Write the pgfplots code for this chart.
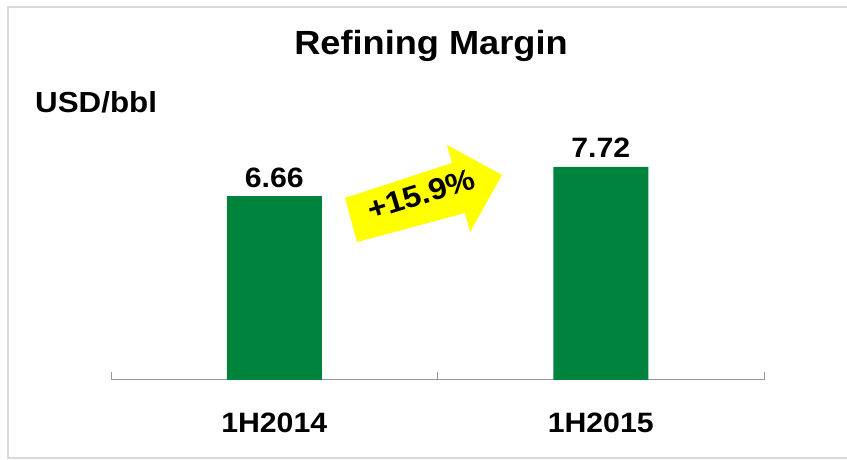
\documentclass[border=0pt]{standalone}
\usepackage{fontspec}
\setmainfont{Liberation Sans}[FakeStretch=1.08]
\usepackage{pgfplots}
\pgfplotsset{compat=1.18}
\definecolor{bargreen}{RGB}{0,132,61}
\definecolor{arrowyellow}{RGB}{255,255,0}
\definecolor{framegray}{RGB}{217,217,217}
\definecolor{axisgray}{RGB}{150,150,150}
\begin{document}
\begin{tikzpicture}[x=1pt,y=1pt]
\path[use as bounding box] (0,0) rectangle (847,460);
% frame
\draw[framegray,line width=1.5pt] (847,453) -- (8,453) -- (8,2) -- (847,2);
% title and unit
\node[anchor=base,inner sep=0pt] at (431,405) {\fontsize{33.5}{38}\selectfont\bfseries Refining Margin};
\node[anchor=base west,inner sep=0pt] at (35,347) {\fontsize{29}{33}\selectfont\bfseries USD/bbl};
\begin{axis}[
  at={(111pt,80pt)}, anchor=south west,
  scale only axis, width=653pt, height=276pt,
  xmin=-0.5, xmax=1.5, ymin=0, ymax=10,
  axis y line=none,
  axis x line*=bottom,
  x axis line style={axisgray,line width=1pt,-},
  xtick={0,1},
  xticklabels={1H2014,1H2015},
  major tick length=0pt,
  xtick style={axisgray,line width=1pt},
  extra x ticks={-0.5,0.5,1.5},
  extra x tick labels={},
  extra x tick style={major tick length=8pt, tick align=inside},
  xticklabel style={anchor=base, yshift=-53pt, font=\fontsize{28}{32}\selectfont\bfseries},
  clip=false,
]
\addplot[ybar, bar width=95pt, fill=bargreen, draw=none,
  point meta=explicit symbolic,
  nodes near coords,
  nodes near coords style={anchor=base, yshift=9pt, inner sep=0pt, font=\fontsize{28}{32}\selectfont\bfseries, text=black}]
  coordinates {(0,6.66)[6.66] (1,7.72)[7.72]};
\end{axis}
% growth arrow
\fill[arrowyellow] (345,262) -- (452,297) -- (447,315) -- (502,285) -- (470,228) -- (465,247) -- (357,218) -- cycle;
\node[rotate=17,inner sep=0pt] at (421,266) {\fontsize{30}{34}\selectfont\bfseries +15.9\%};
\end{tikzpicture}
\end{document}
